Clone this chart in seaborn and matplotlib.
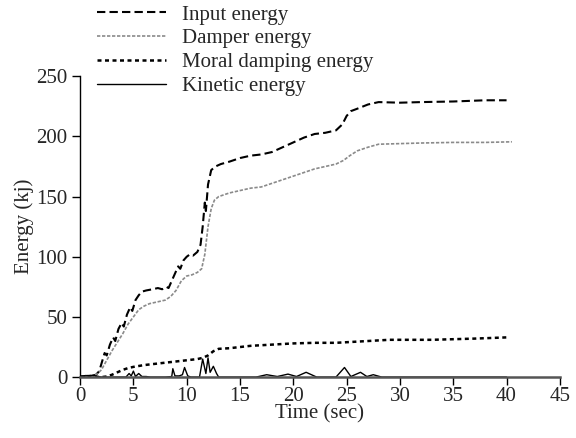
import matplotlib
matplotlib.use("Agg")
import matplotlib.pyplot as plt
import seaborn as sns

# ── Data ──
input_t = [0, 0.5, 1, 1.5, 1.8, 2.1, 2.3, 2.5, 2.8, 3.1, 3.3, 3.6, 3.9, 4.1, 4.4, 4.7,
           4.9, 5.2, 5.5, 5.8, 6.2, 6.8, 7.3, 7.7, 8.1, 8.3, 8.6, 8.9, 9.2, 9.4, 9.7,
           10.0, 10.3, 10.6, 11.0, 11.3, 11.5, 11.7, 11.8, 12.0, 12.3, 12.7, 13.2, 14,
           15, 16, 17, 18, 19, 20, 21, 22, 23, 24, 24.6, 25.0, 25.4, 26, 27, 28, 30,
           32, 35, 38, 40]
input_e = [0, 1, 1, 2, 5, 14, 20, 18, 27, 33, 30, 40, 45, 42, 52, 58,
           55, 64, 68, 71, 72, 73, 74, 73, 75, 74, 80, 86, 92, 90, 97,
           100, 102, 101, 104, 110, 125, 145, 138, 160, 172, 175, 177, 179,
           182, 184, 185, 187, 191, 195, 199, 202, 203, 205, 210, 217, 221, 223, 226.5, 228.5, 228,
           228.5, 229, 230, 230]

damper_t = [0, 1, 1.5, 2, 2.5, 3, 3.5, 4, 4.5, 5, 5.5, 6, 6.5, 7, 7.5, 8, 8.5, 9, 9.5,
            10, 10.5, 11, 11.4, 11.7, 12, 12.3, 12.6, 13, 14, 15, 16, 17, 18, 19, 20,
            21, 22, 23, 24, 24.7, 25.3, 26, 27, 28, 30, 32, 35, 38, 40.5]
damper_e = [0, 1, 2, 6, 14, 22, 29, 36, 44, 50, 56, 59, 61, 62, 63, 64, 67, 72, 80,
            84, 85, 87, 90, 102, 125, 140, 147, 150, 153, 155, 157, 158, 161, 164, 167,
            170, 173, 175, 177, 180, 184, 188, 191, 193.5, 194, 194.5, 195, 195, 195.5]

moral_t = [0, 2, 2.5, 3, 3.5, 4, 4.5, 5, 6, 7, 8, 9, 10, 11, 11.5, 12, 12.5, 13, 14,
           15, 16, 18, 20, 22, 24, 25, 27, 29, 31, 33, 35, 37, 40]
moral_e = [0, 0, 0.5, 2, 4, 6, 7.5, 8.5, 10, 11, 12, 13, 14, 15, 16, 18, 21.5, 23.5, 24,
           25, 26, 27, 28, 28.5, 28.5, 29, 30, 31, 31, 31, 31.5, 32, 33]

kinetic_t = [0, 0.5, 1, 1.5, 2, 4.3, 4.6, 4.8, 5.0, 5.2, 5.5, 5.8, 6.2, 6.6, 8.0, 8.6,
             8.7, 8.9, 9.3, 9.6, 9.8, 10.1, 10.4, 11.2, 11.5, 11.8, 12.0, 12.2, 12.5,
             12.8, 13.0, 16.5, 17.5, 18.5, 19.5, 20.3, 21.2, 22.2, 24.0, 24.8, 25.4,
             26.3, 26.9, 27.5, 28.3, 40]
kinetic_e = [1, 1, 1.5, 1, 0, 0, 3, 1, 5, 0.5, 3, 0.5, 0.5, 0, 0, 0.5,
             7, 1, 1, 2, 8, 1, 0, 0, 15, 3, 16, 4, 9,
             3, 0, 0, 2, 0.5, 2.5, 0.5, 4, 0, 0, 8, 0.5,
             4, 0.5, 2, 0, 0]

labels = ["Input energy", "Damper energy", "Moral damping energy", "Kinetic energy"]
x_ticks = list(range(0, 46, 5))
y_ticks = list(range(0, 251, 50))

sns.set_style("ticks")
plt.rcParams["font.family"] = ["Liberation Serif", "DejaVu Serif"]
plt.rcParams["font.size"] = 15

fig = plt.figure(figsize=(5.76, 4.38), dpi=100)
ax = fig.add_axes([0.139, 0.139, 0.833, 0.687])

sns.lineplot(x=input_t, y=input_e, ax=ax, color="black", linewidth=1.5,
             linestyle=(0, (4, 2)), label=labels[0])
sns.lineplot(x=damper_t, y=damper_e, ax=ax, color="#8a8a8a", linewidth=1.2,
             linestyle=(0, (2, 1)), label=labels[1])
sns.lineplot(x=moral_t, y=moral_e, ax=ax, color="black", linewidth=1.8,
             linestyle=(0, (1.6, 1.4)), label=labels[2])
sns.lineplot(x=kinetic_t, y=kinetic_e, ax=ax, color="black", linewidth=1.0,
             label=labels[3])

ax.set_xlim(0, 45)
ax.set_ylim(0, 250)
ax.set_xticks(x_ticks)
ax.set_yticks(y_ticks)
ax.set_xlabel("Time (sec)", fontsize=15, labelpad=-1)
ax.set_ylabel("Energy (kj)", fontsize=15, labelpad=2)
ax.tick_params(axis="both", direction="out", length=6, width=1, labelsize=15,
               color="black", pad=3)
ax.tick_params(axis="x", pad=1)

sns.despine(ax=ax)
ax.spines["left"].set_color("black")
ax.spines["left"].set_linewidth(1.0)
ax.spines["bottom"].set_color("#555555")
ax.spines["bottom"].set_linewidth(1.8)

ax.legend(loc="upper left", bbox_to_anchor=(97 / 576, 1 - 5 / 438),
          bbox_transform=fig.transFigure, frameon=False, fontsize=15,
          handlelength=3.3, handletextpad=0.8, labelspacing=0.2,
          borderpad=0, borderaxespad=0)

fig.savefig("out.png", dpi=100)
